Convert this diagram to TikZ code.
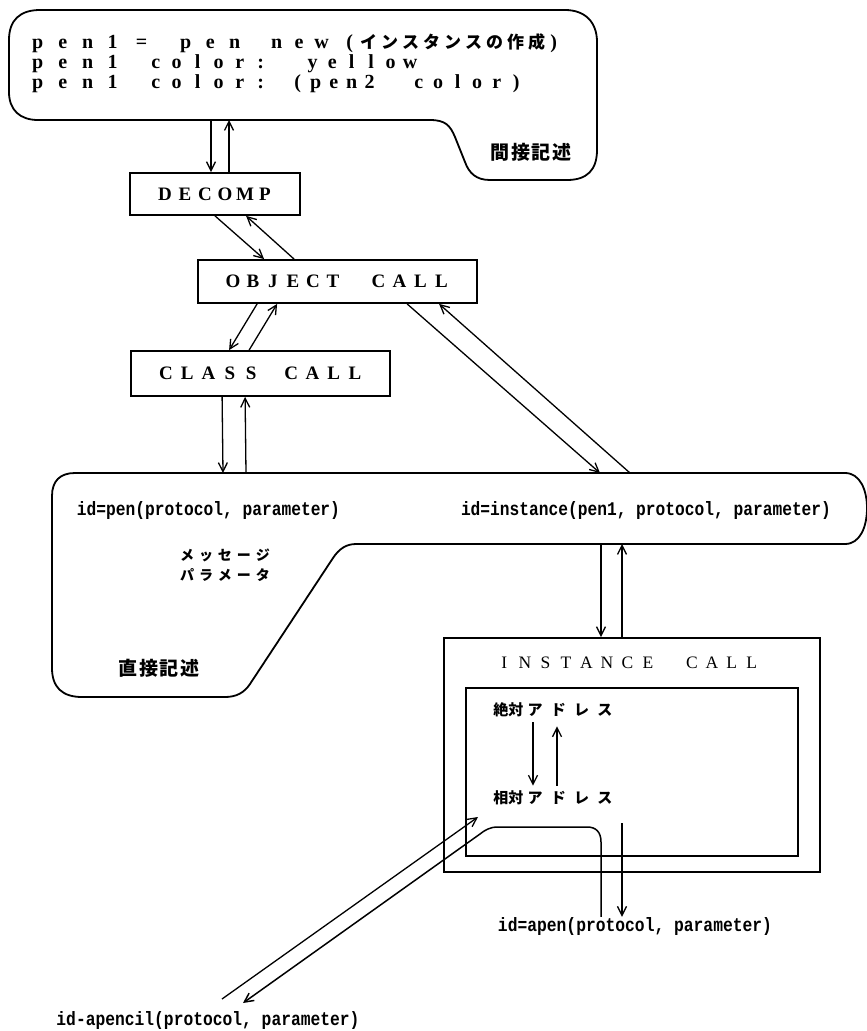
\documentclass[tikz,border=0pt]{standalone}
\usepackage{fontspec}
\usepackage{graphicx}
\usetikzlibrary{arrows.meta}
\setmainfont{Liberation Serif}
\newfontfamily\jpfont{Noto Sans CJK JP}
\newfontfamily\monofont{Liberation Mono}

% fixed-pitch typesetting: every glyph is centred in a cell of the given width
\newdimen\pitchw
\def\pitchloop#1{\ifx\relax#1\else\makebox[\pitchw][c]{#1}\expandafter\pitchloop\fi}
\newcommand\spaced[2]{{\pitchw=#1pt\relax\pitchloop#2\relax}}
% \putword{centre of first glyph}{pitch}{glyphs}: zero-width, placed from the line origin
\newcommand\putword[3]{\rlap{\hspace*{\dimexpr#1pt-#2pt/2\relax}\spaced{#2}{#3}}}

\newcommand\codefont{\fontsize{20}{22}\selectfont\bfseries}
\newcommand\codejp{\jpfont\bfseries\fontsize{17}{20}\selectfont}
\newcommand\boxfont{\fontsize{19}{21}\selectfont\bfseries}
\newcommand\instfont{\fontsize{17.5}{20}\selectfont}
\newcommand\idtext[2]{\resizebox*{#1pt}{18pt}{\monofont\bfseries #2}}

\begin{document}
\begin{tikzpicture}[x=1pt,y=-1pt,
  outline/.style={line width=1.8pt, line join=round},
  box/.style={draw, line width=1.8pt, inner sep=0pt, font=\boxfont},
  plainbox/.style={draw, line width=1.8pt, inner sep=0pt},
  arr/.style={line width=1.3pt, -{Straight Barb[length=9pt,width=9pt]}},
  code/.style={inner sep=0pt, anchor=base west, font=\codefont},
  jp/.style={inner sep=0pt, font=\jpfont\bfseries},
  idlbl/.style={inner sep=0pt}]

\fill[white] (0,0) rectangle (867,1031);
\useasboundingbox (0,0) rectangle (867,1031);

% ---------- indirect description (upper speech shape) ----------
\draw[outline] (40,10) -- (565,10) .. controls (585,10) and (597,22) .. (597,42)
  -- (597,150) .. controls (597,170) and (587,180) .. (567,180)
  -- (490,180) .. controls (476,180) and (469,173) .. (465,162)
  -- (455,137) .. controls (450,125) and (445,120) .. (430,120)
  -- (38,120) .. controls (20,120) and (9,110) .. (9,92)
  -- (9,40) .. controls (9,20) and (20,10) .. (40,10) -- cycle;

\node[code] (line1) at (0,48) {\putword{37}{25}{pen1}\putword{141}{23}{=}\putword{185}{24.5}{pen}\putword{276}{22.5}{new}\putword{349}{12}{(}{\codejp\putword{368}{21}{インスタンスの作成}}\putword{553}{12}{)}};
\node[code] (line2) at (0,68) {\putword{37}{25}{pen1}\putword{155}{21}{color:}\putword{312}{19.5}{yellow}};
\node[code] (line3) at (0,88) {\putword{37}{25}{pen1}\putword{155}{21}{color:}\putword{297}{18}{(pen2}\putword{418}{19.5}{color)}};

\node[jp, font=\jpfont\bfseries\fontsize{19}{22}\selectfont] (indirect) at (531,152) {\spaced{20.5}{間接記述}};

% ---------- call chain ----------
\node[box, minimum width=170pt, minimum height=42pt] (decomp) at (215,194) {\spaced{20}{DECOMP}};
\node[box, minimum width=279pt, minimum height=43pt] (object) at (337.5,281.5) {\spaced{20}{OBJECT}\hspace{25pt}\spaced{21}{CALL}};
\node[box, minimum width=259pt, minimum height=45pt] (class) at (260.5,373.5) {\spaced{21.3}{CLASS}\hspace{18.7pt}\spaced{21.3}{CALL}};

\coordinate (tb1) at (211,120);
\coordinate (tb2) at (229,120);
\draw[arr] (tb1) -- (tb1 |- decomp.north);
\draw[arr] (tb2 |- decomp.north) -- (tb2);

\draw[arr] (decomp.south) -- ([xshift=67pt]object.north west);
\draw[arr] ([xshift=97pt]object.north west) -- ([xshift=117pt]decomp.south west);
\draw[arr] ([xshift=60pt]object.south west) -- ([xshift=99pt]class.north west);
\draw[arr] ([xshift=119pt]class.north west) -- ([xshift=80pt]object.south west);

% ---------- direct description (lower speech shape) ----------
\draw[outline] (75,473) -- (845,473) .. controls (860,473) and (867,490) .. (867,508)
  .. controls (867,527) and (860,544) .. (845,544)
  -- (356,544) .. controls (346,544) and (339,549) .. (333,558)
  -- (250,684) .. controls (244,693) and (236,697) .. (225,697)
  -- (82,697) .. controls (62,697) and (52,687) .. (52,668)
  -- (52,496) .. controls (52,481) and (60,473) .. (75,473) -- cycle;

\node[idlbl] (idpen) at (208.5,510) {\idtext{263}{id=pen(protocol, parameter)}};
\node[idlbl] (idinst) at (646,510) {\idtext{370}{id=instance(pen1, protocol, parameter)}};
\node[jp, font=\jpfont\bfseries\fontsize{14}{16}\selectfont] (msg) at (225,555) {\spaced{19}{メッセージ}};
\node[jp, font=\jpfont\bfseries\fontsize{14}{16}\selectfont] (param) at (225,575) {\spaced{19}{パラメータ}};
\node[jp, font=\jpfont\bfseries\fontsize{19}{22}\selectfont] (direct) at (159,668) {\spaced{20.5}{直接記述}};

\coordinate (bb1) at (223,473);
\coordinate (bb2) at (246,473);
\coordinate (bb3) at (600,473);
\coordinate (bb4) at (630,473);
\coordinate (bb5) at (601,544);
\coordinate (bb6) at (622,544);

\draw[arr] ([xshift=92pt]class.south west) -- (bb1);
\draw[arr] (bb2) -- ([xshift=115pt]class.south west);
\draw[arr] ([xshift=210pt]object.south west) -- (bb3);
\draw[arr] (bb4) -- ([xshift=242pt]object.south west);

% ---------- instance call ----------
\node[plainbox, minimum width=376pt, minimum height=234pt] (instance) at (632,755) {};
\node[plainbox, minimum width=332pt, minimum height=168pt] (inner) at (632,772) {};
\node[inner sep=0pt, font=\instfont] (insttitle) at (628,663) {\spaced{20.5}{INSTANCE}\hspace{23.7pt}\spaced{20}{CALL}};

\draw[arr] (bb5) -- (bb5 |- instance.north);
\draw[arr] (bb6 |- instance.north) -- (bb6);

\node[jp, font=\jpfont\bfseries\fontsize{15}{18}\selectfont] (abs) at (555,710) {\spaced{15}{絶対}\spaced{23.3}{アドレス}};
\node[jp, font=\jpfont\bfseries\fontsize{15}{18}\selectfont] (rel) at (555,798) {\spaced{15}{相対}\spaced{23.3}{アドレス}};
\draw[arr] ([xshift=-22pt,yshift=-5pt]abs.south) -- ([xshift=-22pt,yshift=5pt]rel.north);
\draw[arr] ([xshift=2pt,yshift=5pt]rel.north) -- ([xshift=2pt,yshift=-9pt]abs.south);

% ---------- outgoing parameters ----------
\node[idlbl] (apen) at (635,926) {\idtext{274}{id=apen(protocol, parameter)}};
\node[idlbl] (apencil) at (208,1020) {\idtext{303}{id-apencil(protocol, parameter)}};

\coordinate (ubend) at (601,827);
\coordinate (relout) at (622,823);
\coordinate (pcout) at (222,999);
\coordinate (pcin) at (243,1003);
\coordinate (inin) at (478,817);

\draw[arr, line width=1.5pt] (apen.north -| ubend) -- (601,842)
  .. controls (601,832) and (596,827) .. (587,827) -- (498,827)
  .. controls (490,827) and (485,830) .. (480,834) -- (pcin);
\draw[arr] (relout) -- (apen.north -| relout);
\draw[arr] (pcout) -- (inin);

\end{tikzpicture}
\end{document}
